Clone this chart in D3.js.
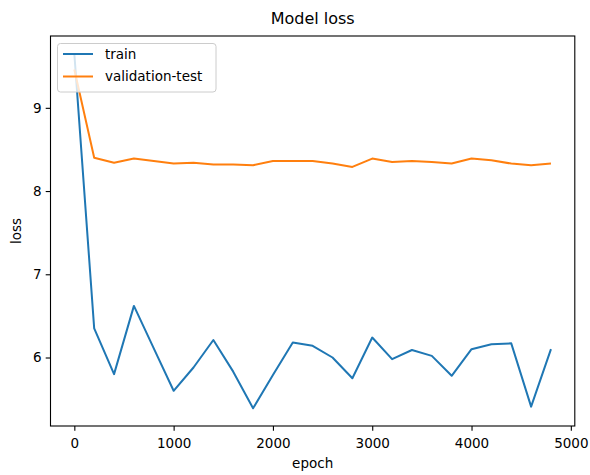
<html>
<head>
<style>
  body { margin: 0; background: #fff; }
  text { font-family: "DejaVu Sans", sans-serif; fill: #000; }
</style>
</head>
<body>
<svg id="chart" width="590" height="475"></svg>
<script src="https://d3js.org/d3.v7.min.js" charset="utf-8"></script>
<script>
    // epochs, one point every 200
    epochs = [0,200,400,600,800,1000,1200,1400,1600,1800,2000,2200,2400,
              2600,2800,3000,3200,3400,3600,3800,4000,4200,4400,4600,4800]
    train = [9.65,6.35,5.80,6.62,6.11,5.60,5.88,6.21,5.83,5.39,5.79,6.18,6.14,
             6.00,5.75,6.24,5.98,6.09,6.02,5.78,6.10,6.16,6.17,5.41,6.10]
    valid = [9.46,8.40,8.34,8.39,8.36,8.33,8.34,8.32,8.32,8.31,8.36,8.36,8.36,
             8.33,8.29,8.39,8.35,8.36,8.35,8.33,8.39,8.37,8.33,8.31,8.33]
    xTicks = [0,1000,2000,3000,4000,5000]
    yTicks = [6,7,8,9]
    series = [
        {name: "train", values: train, color: "#1f77b4"},
        {name: "validation-test", values: valid, color: "#ff7f0e"},
    ]

    var svg = d3.select("#chart")
    // axes box (note: "top" is reserved on window, so prefix)
    var axL = 50.5, axR = 574.8, axT = 36, axB = 426

    // matplotlib style 5% margins
    var xmin = d3.min(epochs), xmax = d3.max(epochs)
    var xpad = (xmax - xmin) * 0.05
    var all = train.concat(valid)
    var ymin = d3.min(all), ymax = d3.max(all)
    var ypad = (ymax - ymin) * 0.05

    var x = d3.scaleLinear().domain([xmin - xpad, xmax + xpad]).range([axL, axR])
    var y = d3.scaleLinear().domain([ymin - ypad, ymax + ypad]).range([axB, axT])

    var line = d3.line()
        .x(function(d, i){ return x(epochs[i]) })
        .y(function(d){ return y(d) })

    var plot = svg.append("g")
    plot.selectAll("path.series").data(series).enter()
        .append("path")
        .attr("class", "series")
        .attr("fill", "none")
        .attr("stroke", function(d){ return d.color })
        .attr("stroke-width", 2)
        .attr("stroke-linejoin", "round")
        .attr("d", function(d){ return line(d.values) })

    // axes
    var xAxis = d3.axisBottom(x).tickValues(xTicks).tickSize(4.8).tickPadding(4).tickFormat(d3.format("d"))
    var yAxis = d3.axisLeft(y).tickValues(yTicks).tickSize(4.8).tickPadding(4).tickFormat(d3.format("d"))
    var gx = svg.append("g").attr("transform", "translate(0," + axB + ")").call(xAxis)
    var gy = svg.append("g").attr("transform", "translate(" + axL + ",0)").call(yAxis)
    ;[gx, gy].forEach(function(g){
        g.select(".domain").remove()
        g.selectAll("line").attr("stroke", "#000").attr("stroke-width", 1.1)
        g.selectAll("text").attr("font-size", "13.5px").attr("fill", "#000")
            .attr("font-family", "DejaVu Sans")
    })
    gx.selectAll("text").attr("dy", "0.95em")

    // frame
    svg.append("rect")
        .attr("x", axL).attr("y", axT)
        .attr("width", axR - axL).attr("height", axB - axT)
        .attr("fill", "none").attr("stroke", "#000").attr("stroke-width", 1.1)

    // titles
    svg.append("text").attr("x", (axL + axR) / 2).attr("y", 24)
        .attr("text-anchor", "middle").attr("font-size", "16px").text("Model loss")
    svg.append("text").attr("x", (axL + axR) / 2).attr("y", 468)
        .attr("text-anchor", "middle").attr("font-size", "13.5px").text("epoch")
    svg.append("text").attr("transform", "translate(21," + ((axT + axB) / 2) + ") rotate(-90)")
        .attr("text-anchor", "middle").attr("font-size", "13.5px").text("loss")

    // legend
    var lg = svg.append("g")
    lg.append("rect").attr("x", 57.5).attr("y", 43.5).attr("width", 158.5).attr("height", 48.5)
        .attr("rx", 3).attr("fill", "#fff").attr("fill-opacity", 0.8)
        .attr("stroke", "#ccc").attr("stroke-width", 1)
    var item = lg.selectAll("g.item").data(series).enter().append("g")
        .attr("transform", function(d, i){ return "translate(0," + (54 + i * 22.5) + ")" })
    item.append("line").attr("x1", 63).attr("x2", 93).attr("y1", 0).attr("y2", 0)
        .attr("stroke", function(d){ return d.color }).attr("stroke-width", 2)
    item.append("text").attr("x", 105).attr("y", 0).attr("dy", "0.35em")
        .attr("font-size", "13.5px").text(function(d){ return d.name })
</script>
</body>
</html>
